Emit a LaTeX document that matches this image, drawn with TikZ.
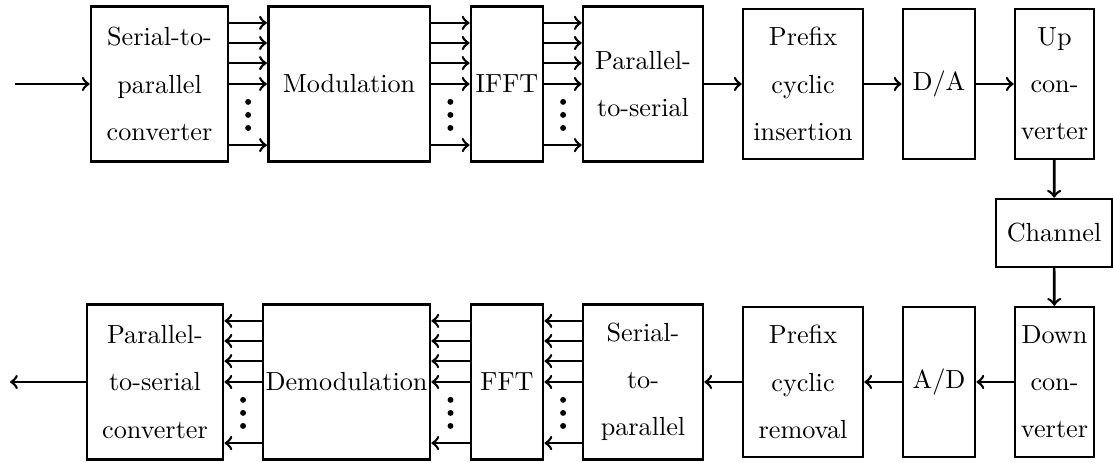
\documentclass[tikz,border=0pt]{standalone}
\usepackage{amsmath}
\usepackage{tikz}
\usetikzlibrary{arrows,calc}

\begin{document}
\begin{tikzpicture}[>=to, line width=1pt,
	blocco/.style = {draw, align=center, inner sep=1pt, font=\linespread{1.5}\selectfont, minimum height=2.08cm},
	bloccob/.style = {blocco, minimum height=2.01cm},
	dot/.style = {fill,circle,inner sep=0.8pt}
	]
	\useasboundingbox (0,0) rectangle (14.936,6.213);
	%RIGA SUPERIORE
	\node[blocco, minimum width=1.84cm] (s2p) at (2.141,5.086) {Serial-to-\\parallel\\converter};
	\node[blocco, minimum width=2.17cm] (mod) at (4.684,5.086) {Modulation};
	\node[blocco, minimum width=0.97cm] (ifft) at (6.804,5.086) {IFFT};
	\node[blocco, minimum width=1.61cm] (p2s) at (8.629,5.086) {Parallel-\\to-serial};
	\node[bloccob, minimum width=1.61cm] (cpi) at (10.776,5.086) {Prefix\\cyclic\\insertion};
	\node[bloccob, minimum width=0.97cm] (dac) at (12.601,5.086) {D/A};
	\node[bloccob, minimum width=1.06cm] (up) at (14.151,5.086) {Up\\con-\\verter};
	%Canale
	\node[draw, inner sep=1pt, minimum width=1.56cm, minimum height=0.91cm] (chan) at (14.145,3.087) {Channel};
	%RIGA INFERIORE
	\node[bloccob, minimum width=1.06cm] (down) at (14.151,1.087) {Down\\con-\\verter};
	\node[bloccob, minimum width=0.97cm] (adc) at (12.601,1.087) {A/D};
	\node[bloccob, minimum width=1.61cm] (cpr) at (10.776,1.087) {Prefix\\cyclic\\removal};
	\node[blocco, minimum width=1.61cm] (s2pr) at (8.629,1.087) {Serial-\\to-\\parallel};
	\node[blocco, minimum width=0.97cm] (fft) at (6.804,1.087) {FFT};
	\node[blocco, minimum width=2.24cm] (demod) at (4.650,1.087) {Demodulation};
	\node[blocco, minimum width=1.83cm] (p2sr) at (2.080,1.087) {Parallel-\\to-serial\\converter};
	%Ingresso e uscita
	\coordinate (in) at (0.201,5.086);
	\coordinate (out) at (0.134,1.087);
	%Collegamenti seriali
	\draw[->] (in) -- (s2p);
	\draw[->] (p2s) -- (cpi);
	\draw[->] (cpi) -- (dac);
	\draw[->] (dac) -- (up);
	\draw[->] (up) -- (chan);
	\draw[->] (chan) -- (down);
	\draw[->] (down) -- (adc);
	\draw[->] (adc) -- (cpr);
	\draw[->] (cpr) -- (s2pr);
	\draw[->] (p2sr) -- (out);
	%Collegamenti paralleli
	\foreach \a/\b in {s2p/mod, mod/ifft, ifft/p2s}{
		\foreach \dy in {0.82,0.55,0.28,0,-0.82}
			\draw[->] ([yshift=\dy cm]\a.east) -- ([yshift=\dy cm]\b.west);
		\foreach \i in {1,2,3}
			\node[dot] (p\a\i) at ($(\a.east)!0.5!(\b.west)+(0,-0.065-0.175*\i)$) {};
	}
	\foreach \a/\b in {s2pr/fft, fft/demod, demod/p2sr}{
		\foreach \dy in {0.82,0.55,0.28,0,-0.82}
			\draw[->] ([yshift=\dy cm]\a.west) -- ([yshift=\dy cm]\b.east);
		\foreach \i in {1,2,3}
			\node[dot] (p\a\i) at ($(\a.west)!0.5!(\b.east)+(0,-0.065-0.175*\i)$) {};
	}
\end{tikzpicture}
\end{document}
